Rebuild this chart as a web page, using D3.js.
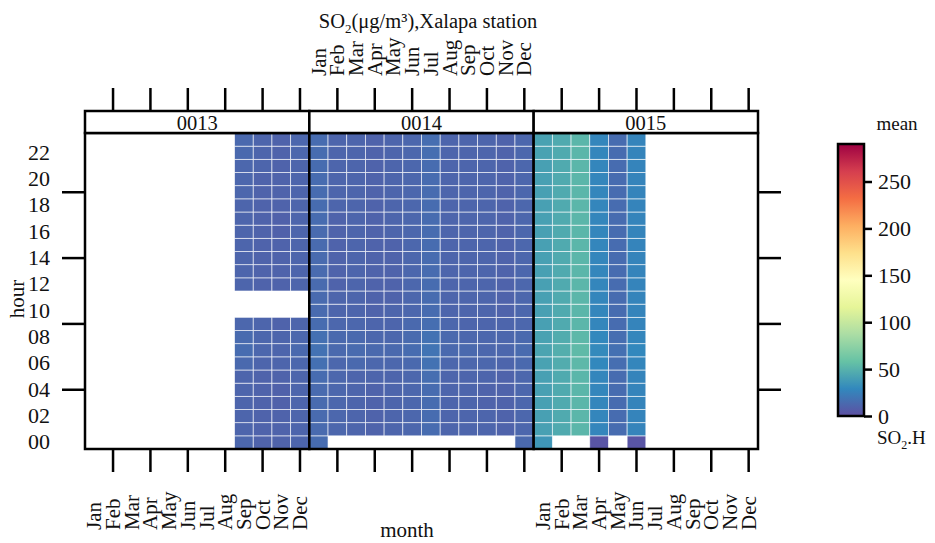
<!DOCTYPE html>
<html>
<head>
<meta charset="utf-8">
<script src="https://cdn.jsdelivr.net/npm/d3@7"></script>
<style>
  body { margin: 0; background: #fff; }
  text { font-family: "Liberation Serif", "DejaVu Serif", serif; fill: #111; }
</style>
</head>
<body>
<svg id="chart" width="935" height="543"></svg>
<script>
// chart data
const years = ["0013", "0014", "0015"];
const monthNames = ["Jan","Feb","Mar","Apr","May","Jun","Jul","Aug","Sep","Oct","Nov","Dec"];
const hourLabels = [0, 2, 4, 6, 8, 10, 12, 14, 16, 18, 20, 22];
const hourTicks = [4, 9, 14, 19];
const monthTicks = [1, 3, 5, 7, 9, 11];
const colourTicks = [0, 50, 100, 150, 200, 250];
const colourMax = 290;

// hourly means (hour 0..23) per month, null = no data
const so2_0013 = [
  null, null, null, null, null, null, null, null,
  [12,11,11,11,11,11,13,15,14,12,null,null,11,11,11,11,11,11,11,12,12,12,13,13],
  [10,10,10,10,10,10,11,12,12,11,null,null,10,10,10,10,10,10,10,10,10,11,11,11],
  [10,10,10,9,9,10,11,11,11,10,null,null,10,10,10,10,9,9,10,10,10,10,10,10],
  [11,11,11,11,11,11,12,13,12,11,null,null,11,11,11,11,11,11,11,11,11,11,12,12]
];
const so2_0014 = [
  [15,14,14,14,14,15,17,18,17,15,14,14,14,14,14,14,14,15,15,15,15,15,15,15],
  [null,12,12,12,12,12,12,13,13,12,11,11,10,10,10,10,10,10,11,11,11,11,11,11],
  [null,11,11,11,11,11,13,14,13,12,11,11,11,11,11,11,11,11,11,11,11,11,11,11],
  [null,10,10,10,10,11,12,13,12,11,10,10,10,10,10,10,10,10,10,10,10,10,10,10],
  [null,11,11,11,11,11,12,13,12,11,11,10,10,10,10,10,11,11,11,11,11,11,11,11],
  [null,12,12,12,12,12,13,15,14,13,12,12,12,12,12,12,12,12,12,12,12,12,12,12],
  [null,15,15,15,15,16,18,19,18,16,15,15,15,15,15,15,15,15,15,15,15,15,16,16],
  [null,11,11,11,11,11,12,13,13,12,11,11,11,11,11,11,11,11,11,11,11,11,11,11],
  [null,11,11,11,11,11,12,13,12,11,11,11,11,11,11,11,11,11,11,11,11,11,11,11],
  [null,11,11,10,10,11,12,12,12,11,11,11,11,11,11,11,11,11,11,11,11,11,11,11],
  [null,10,10,10,10,10,11,12,12,11,10,10,10,10,10,10,10,10,10,10,10,10,10,10],
  [13,12,12,12,12,12,13,14,13,12,12,12,12,12,12,12,12,12,12,12,12,12,12,12]
];
const so2_0015 = [
  [36,41,41,41,41,41,42,43,42,41,41,41,41,41,41,41,41,41,41,41,41,41,42,42],
  [null,46,46,46,46,46,47,48,47,46,46,46,46,46,46,46,46,46,46,46,46,46,46,46],
  [null,52,52,52,52,52,53,54,53,52,52,52,52,52,52,52,52,52,52,52,52,52,52,52],
  [3,28,28,28,28,28,29,30,29,28,28,28,28,28,28,28,28,28,28,28,28,28,28,28],
  [null,15,15,15,15,15,16,17,16,15,15,15,15,15,15,15,15,15,15,15,15,15,15,15],
  [3,27,27,27,27,27,28,29,28,27,27,27,27,27,27,27,27,27,27,27,27,27,27,27],
  null, null, null, null, null, null
];
const yearData = [so2_0013, so2_0014, so2_0015];

// openair default palette (reversed Spectral)
const spectralRev = ["#5e4fa2","#3288bd","#66c2a5","#abdda4","#e6f598","#ffffbf",
                     "#fee08b","#fdae61","#f46d43","#d53e4f","#9e0142"];

const svg = d3.select("#chart");

const plotLeft = 85, plotRight = 758, stripTop = 111, plotTop = 133, plotBottom = 449;
const panelW = (plotRight - plotLeft) / 3;

const colour = d3.scaleLinear()
  .domain(spectralRev.map((c, i) => i * colourMax / (spectralRev.length - 1)))
  .range(spectralRev);

const y = d3.scaleBand().domain(d3.range(24).reverse()).range([plotTop, plotBottom]);

// cells
years.forEach((yr, i) => {
  const x0 = plotLeft + i * panelW;
  const x = d3.scaleBand().domain(d3.range(12)).range([x0, x0 + panelW]);
  const cells = [];
  yearData[i].forEach((vals, m) => {
    if (!vals) return;
    vals.forEach((v, h) => { if (v != null) cells.push({m, h, v}); });
  });
  svg.append("g").selectAll("rect").data(cells).enter().append("rect")
    .attr("x", d => x(d.m))
    .attr("y", d => y(d.h))
    .attr("width", x.bandwidth())
    .attr("height", y.bandwidth())
    .attr("fill", d => colour(d.v))
    .attr("stroke", "#fff")
    .attr("stroke-opacity", 0.75)
    .attr("stroke-width", 0.8);

  // panel frame and strip
  svg.append("rect").attr("x", x0).attr("y", plotTop).attr("width", panelW).attr("height", plotBottom - plotTop)
    .attr("fill", "none").attr("stroke", "#000").attr("stroke-width", 2.5);
  svg.append("rect").attr("x", x0).attr("y", stripTop).attr("width", panelW).attr("height", plotTop - stripTop)
    .attr("fill", "#fff").attr("stroke", "#000").attr("stroke-width", 2.5);
  svg.append("text").attr("x", x0 + panelW / 2).attr("y", (stripTop + plotTop) / 2 + 1)
    .attr("text-anchor", "middle").attr("dominant-baseline", "central")
    .attr("font-size", 20.5).text(yr);

  // month tick marks top and bottom
  const topAxis = svg.append("g").attr("transform", `translate(0,${stripTop})`)
    .call(d3.axisTop(x).tickValues(monthTicks).tickSize(23).tickFormat(""));
  const botAxis = svg.append("g").attr("transform", `translate(0,${plotBottom})`)
    .call(d3.axisBottom(x).tickValues(monthTicks).tickSize(23).tickFormat(""));
  [topAxis, botAxis].forEach(g => {
    g.select(".domain").remove();
    g.selectAll("line").attr("stroke", "#000").attr("stroke-width", 2.5);
  });

  // month labels: top for middle panel, bottom for the others
  const labY = i === 1 ? 76 : 530;
  svg.append("g").selectAll("text").data(monthNames).enter().append("text")
    .attr("transform", (d, m) => `translate(${x(m) + x.bandwidth() / 2},${labY}) rotate(-90)`)
    .attr("text-anchor", "start").attr("dominant-baseline", "central")
    .attr("font-size", 21).text(d => d);
});

// hour axis ticks left and right
const leftTicks = svg.append("g").attr("transform", `translate(${plotLeft},0)`)
  .call(d3.axisLeft(y).tickValues(hourTicks).tickSize(23).tickFormat(""));
const rightTicks = svg.append("g").attr("transform", `translate(${plotRight},0)`)
  .call(d3.axisRight(y).tickValues(hourTicks).tickSize(23).tickFormat(""));
[leftTicks, rightTicks].forEach(g => {
  g.select(".domain").remove();
  g.selectAll("line").attr("stroke", "#000").attr("stroke-width", 2.5);
});

const hourAxis = svg.append("g").attr("transform", `translate(50,0)`)
  .call(d3.axisLeft(y).tickValues(hourLabels).tickSize(0).tickPadding(0).tickFormat(d3.format("02d")));
hourAxis.select(".domain").remove();
hourAxis.selectAll("text").attr("font-size", 22).attr("font-family", "Liberation Serif").attr("fill", "#111");

// axis titles
svg.append("text").attr("transform", "translate(17,299) rotate(-90)")
  .attr("text-anchor", "middle").attr("dominant-baseline", "central")
  .attr("font-size", 21).text("hour");
svg.append("text").attr("x", 407).attr("y", 537).attr("text-anchor", "middle")
  .attr("font-size", 21).text("month");

const title = svg.append("text").attr("x", 428).attr("y", 28).attr("text-anchor", "middle").attr("font-size", 20.5);
title.append("tspan").text("SO");
title.append("tspan").attr("font-size", 13).attr("dy", 5).text("2");
title.append("tspan").attr("dy", -5).text("(μg/m³),Xalapa station");

// colour key
const keyX = 838, keyW = 26, keyTop = 144, keyBottom = 416;
const ky = d3.scaleLinear().domain([0, colourMax]).range([keyBottom, keyTop]);
const grad = svg.append("defs").append("linearGradient").attr("id", "keygrad")
  .attr("x1", 0).attr("y1", 1).attr("x2", 0).attr("y2", 0);
grad.selectAll("stop").data(spectralRev).enter().append("stop")
  .attr("offset", (d, i) => i / (spectralRev.length - 1))
  .attr("stop-color", d => d);
svg.append("rect").attr("x", keyX).attr("y", keyTop).attr("width", keyW).attr("height", keyBottom - keyTop)
  .attr("fill", "url(#keygrad)").attr("stroke", "#000").attr("stroke-width", 2.5);
const keyAxis = svg.append("g").attr("transform", `translate(${keyX + keyW},0)`)
  .call(d3.axisRight(ky).tickValues(colourTicks).tickSize(8).tickPadding(6));
keyAxis.select(".domain").remove();
keyAxis.selectAll("line").attr("stroke", "#000").attr("stroke-width", 2.5);
keyAxis.selectAll("text").attr("font-size", 22).attr("font-family", "Liberation Serif").attr("fill", "#111");

svg.append("text").attr("x", 897).attr("y", 130).attr("text-anchor", "middle")
  .attr("font-size", 19).text("mean");
const keyLab = svg.append("text").attr("x", 877).attr("y", 444).attr("font-size", 19);
keyLab.append("tspan").text("SO");
keyLab.append("tspan").attr("font-size", 12).attr("dy", 5).text("2");
keyLab.append("tspan").attr("dy", -5).text(".H");
</script>
</body>
</html>
